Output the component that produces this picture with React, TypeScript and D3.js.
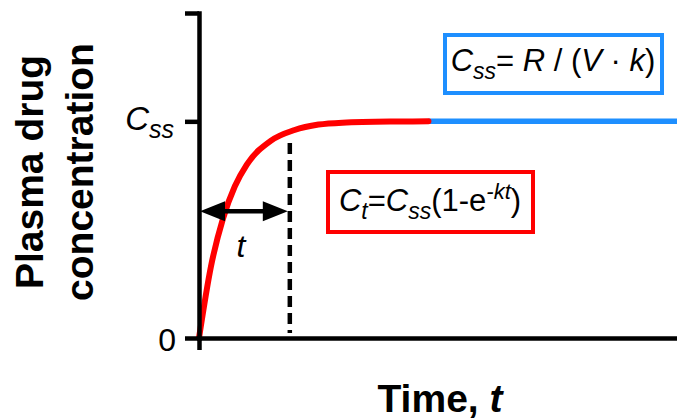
import React, { useEffect, useRef } from "react";
import * as d3 from "d3";

// values (time in arbitrary units, concentration as fraction of Css)
const riseTime = [0, 0.25, 0.5, 0.75, 1, 1.5, 2, 2.5, 3, 4, 4.8];
const riseConc = [0, 0.33, 0.55, 0.7, 0.8, 0.91, 0.96, 0.985, 0.994, 0.999, 1];
const plateauTime = [4.8, 10];
const plateauConc = [1, 1];
const yTickValues = [0, 1, 1.5];
const xTickValues = [0];
const markerTime = 1.9;
const arrowConc = 0.585;

const FONT = "'Liberation Sans', Arial, Helvetica, sans-serif";

const App = () => {
  const ref = useRef<SVGGElement>(null);

  useEffect(() => {
    const width = 677;
    const height = 419;
    const margin = { top: 13, right: 0, bottom: 81, left: 199 };

    const svg = d3.select(ref.current);
    svg.selectAll("*").remove();

    const x = d3.scaleLinear().domain([0, 10]).range([margin.left, width - margin.right]);
    const y = d3.scaleLinear().domain([0, 1.5]).range([height - margin.bottom, margin.top]);

    const line = d3
      .line<[number, number]>()
      .x((d) => x(d[0]))
      .y((d) => y(d[1]))
      .curve(d3.curveMonotoneX);

    // dashed marker at t
    svg
      .append("line")
      .attr("x1", x(markerTime))
      .attr("x2", x(markerTime))
      .attr("y1", 143)
      .attr("y2", y(0) - 5)
      .attr("stroke", "#000")
      .attr("stroke-width", 4.5)
      .attr("stroke-dasharray", "11,6");

    // plateau (blue) and rise (red)
    svg
      .append("path")
      .datum(plateauTime.map((t, i) => [t, plateauConc[i]] as [number, number]))
      .attr("d", line)
      .attr("fill", "none")
      .attr("stroke", "#1e8fff")
      .attr("stroke-width", 5.5);

    svg
      .append("path")
      .datum(riseTime.map((t, i) => [t, riseConc[i]] as [number, number]))
      .attr("d", line)
      .attr("fill", "none")
      .attr("stroke", "#ff0000")
      .attr("stroke-width", 6)
      .attr("stroke-linecap", "round");

    // axes
    const yAxis = svg
      .append("g")
      .attr("transform", `translate(${margin.left},0)`)
      .call(
        d3.axisLeft(y).tickValues(yTickValues).tickSize(14).tickSizeOuter(0).tickFormat(() => "")
      );
    const xAxis = svg
      .append("g")
      .attr("transform", `translate(0,${y(0)})`)
      .call(
        d3.axisBottom(x).tickValues(xTickValues).tickSize(12).tickSizeOuter(0).tickFormat(() => "")
      );
    [yAxis, xAxis].forEach((g) => {
      g.selectAll("path, line").attr("stroke", "#000").attr("stroke-width", 4.5);
      g.select(".domain").attr("stroke-linecap", "square");
    });

    // double arrow
    const ay = y(arrowConc);
    const x0 = x(0) + 1;
    const x1 = x(markerTime) - 2;
    svg
      .append("line")
      .attr("x1", x0 + 10)
      .attr("x2", x1 - 10)
      .attr("y1", ay)
      .attr("y2", ay)
      .attr("stroke", "#000")
      .attr("stroke-width", 4.5);
    svg
      .append("path")
      .attr("d", `M${x0},${ay}L${x0 + 25},${ay - 10}L${x0 + 25},${ay + 10}Z`)
      .attr("fill", "#000");
    svg
      .append("path")
      .attr("d", `M${x1},${ay}L${x1 - 25},${ay - 10}L${x1 - 25},${ay + 10}Z`)
      .attr("fill", "#000");
  }, []);

  return (
    <svg
      width={677}
      height={419}
      style={{ position: "absolute", left: 0, top: 0, background: "#fff" }}
      fontFamily={FONT}
    >
      <g ref={ref} />
      <g>
        {/* y tick labels */}
        <text x={176} y={351} fontSize={32} textAnchor="end">0</text>
        <text x={174} y={130} fontSize={33} textAnchor="end" fontStyle="italic">
          <tspan>C</tspan>
          <tspan fontSize={25} dy={8}>ss</tspan>
        </text>

        {/* axis titles */}
        <text
          transform="translate(29,172) rotate(-90)"
          fontSize={39}
          fontWeight="bold"
          textAnchor="middle"
          dominantBaseline="central"
        >
          Plasma drug
        </text>
        <text
          transform="translate(79,172) rotate(-90)"
          fontSize={39}
          fontWeight="bold"
          textAnchor="middle"
          dominantBaseline="central"
        >
          concentration
        </text>
        <text x={440} y={412} fontSize={39} fontWeight="bold" textAnchor="middle">
          <tspan>Time, </tspan>
          <tspan fontStyle="italic">t</tspan>
        </text>

        {/* t label */}
        <text x={241} y={257} fontSize={32} fontStyle="italic" textAnchor="middle">t</text>

        {/* red formula box */}
        <rect x={328} y={172} width={205} height={60} fill="#fff" stroke="#ff0000" strokeWidth={4} />
        <text x={430} y={211} fontSize={31} textAnchor="middle">
          <tspan fontStyle="italic">C</tspan>
          <tspan fontStyle="italic" fontSize={23} dy={8}>t</tspan>
          <tspan dy={-8}>=</tspan>
          <tspan fontStyle="italic">C</tspan>
          <tspan fontStyle="italic" fontSize={23} dy={8}>ss</tspan>
          <tspan dy={-8}>(1-e</tspan>
          <tspan fontStyle="italic" fontSize={22} dy={-12}>-kt</tspan>
          <tspan dy={12}>)</tspan>
        </text>

        {/* blue formula box */}
        <rect x={445} y={35} width={217} height={58} fill="#fff" stroke="#1e8fff" strokeWidth={4} />
        <text x={553} y={71} fontSize={31} textAnchor="middle">
          <tspan fontStyle="italic">C</tspan>
          <tspan fontStyle="italic" fontSize={23} dy={8}>ss</tspan>
          <tspan dy={-8}>= </tspan>
          <tspan fontStyle="italic">R</tspan>
          <tspan> / (</tspan>
          <tspan fontStyle="italic">V</tspan>
          <tspan> · </tspan>
          <tspan fontStyle="italic">k</tspan>
          <tspan>)</tspan>
        </text>
      </g>
    </svg>
  );
};

export default App;
